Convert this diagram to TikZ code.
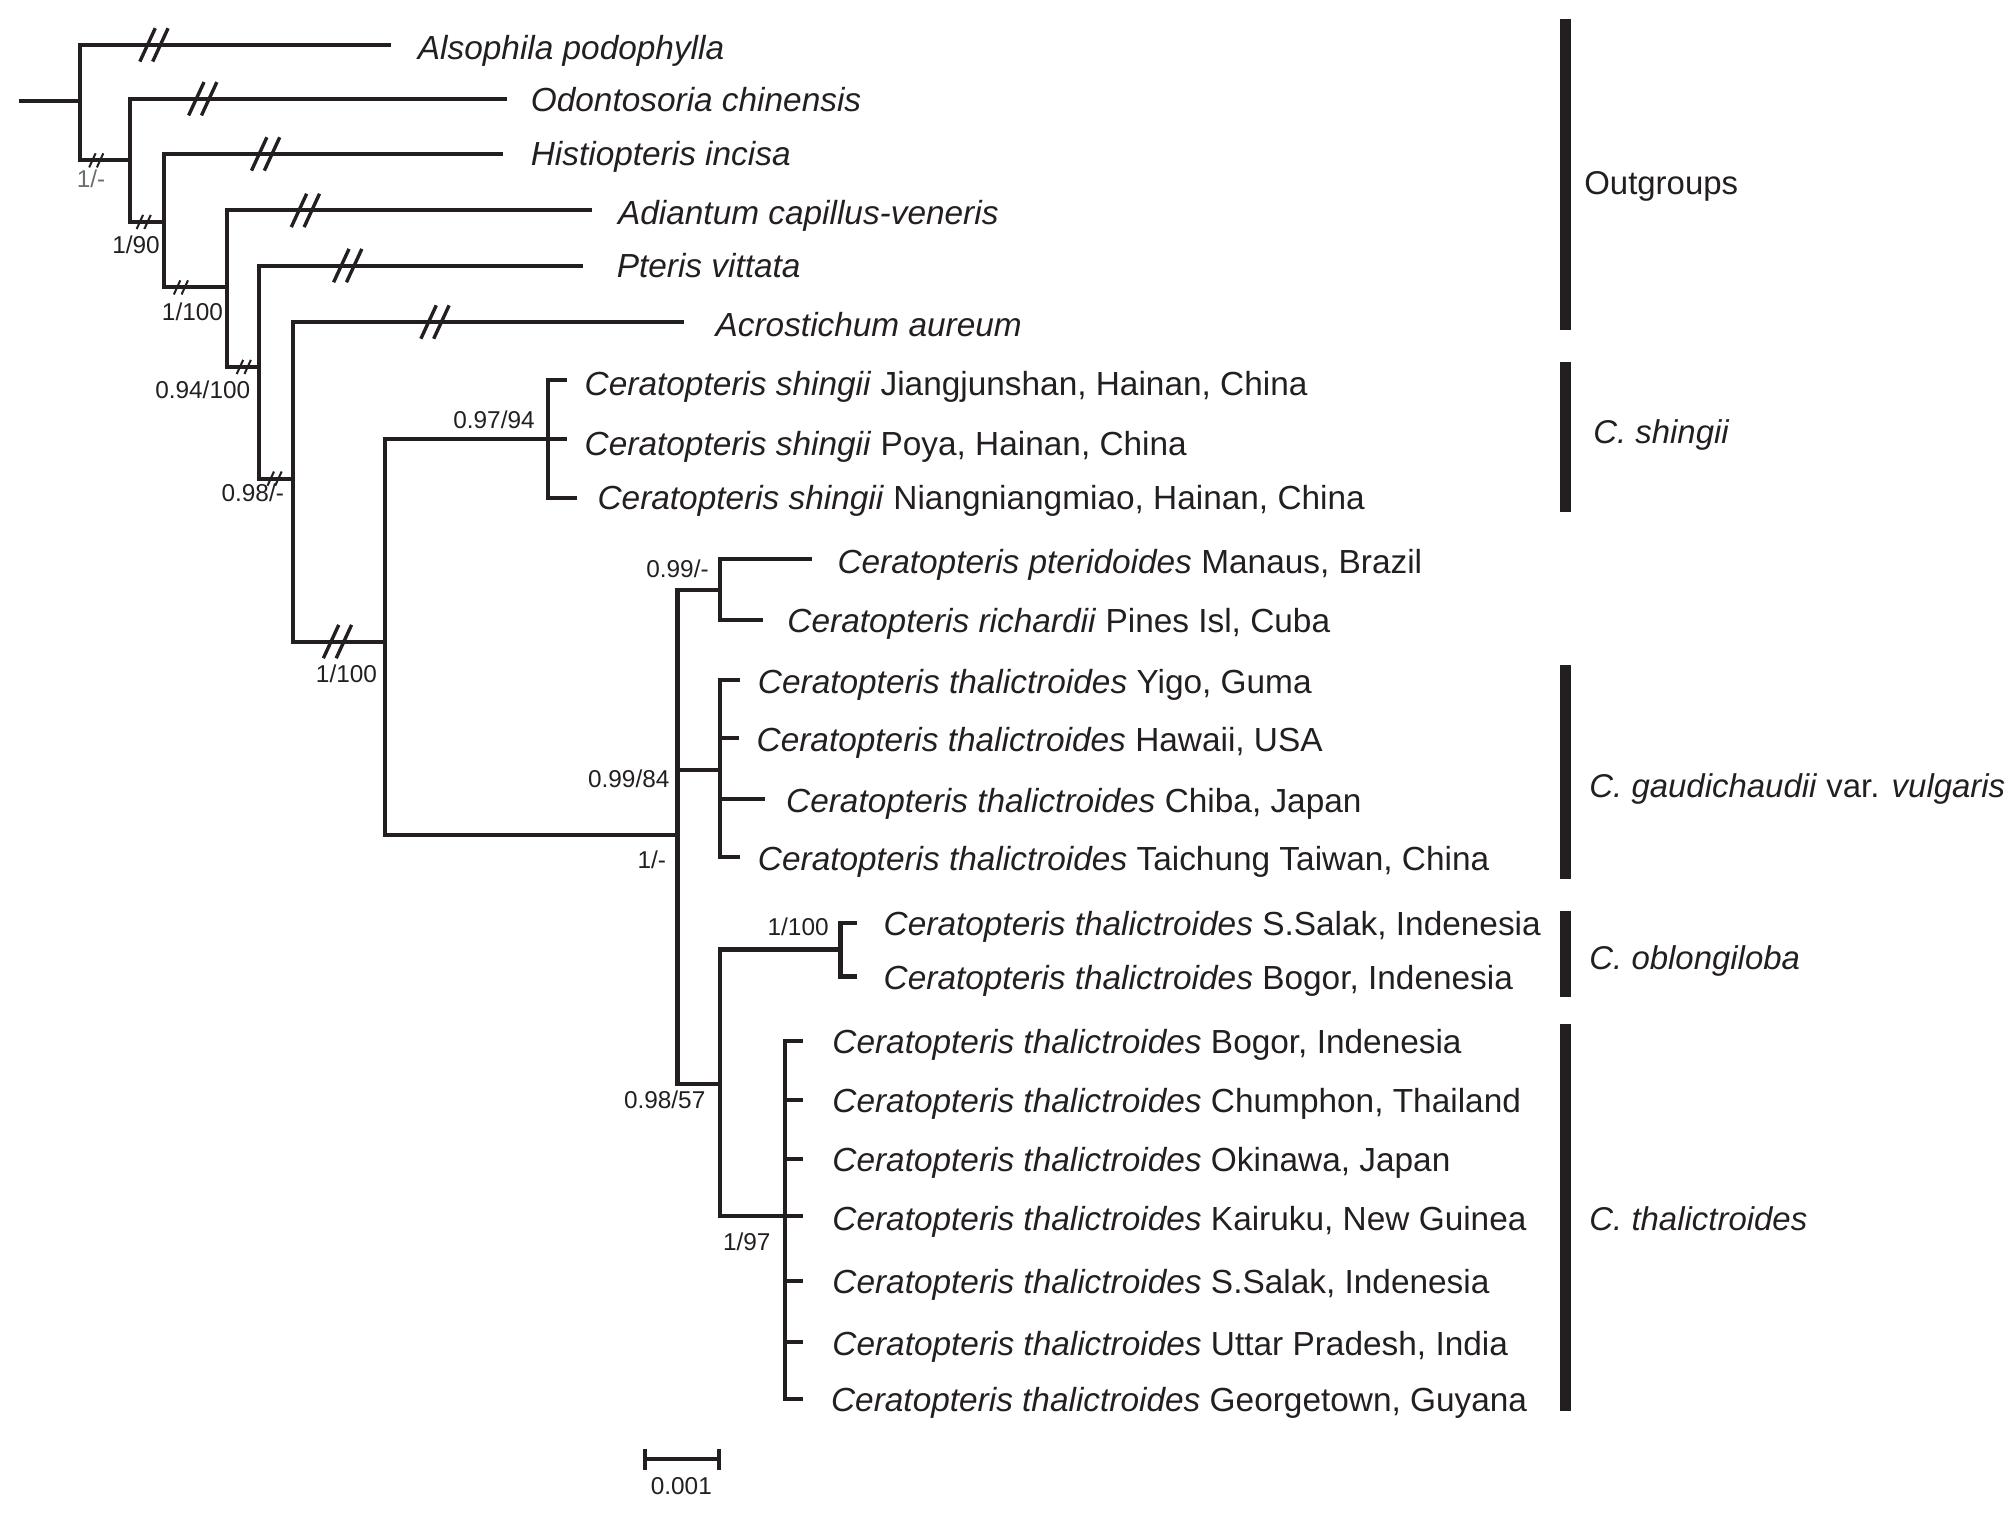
\documentclass[tikz,border=0pt]{standalone}
\usepackage{fontspec}
\setmainfont{Liberation Sans}
\usetikzlibrary{positioning}
\usepackage{xcolor}
\definecolor{cTree}{HTML}{231F20}
\definecolor{cSoft}{HTML}{6D6E71}
\tikzset{
  branch/.style={draw=cTree, line width=0.9pt, line join=miter},
  taxon/.style={anchor=mid west, inner sep=0pt,
    font=\fontsize{7.4}{8}\selectfont, text=cTree},
  support/.style={inner sep=0pt, font=\fontsize{5.4}{6}\selectfont, text=cTree},
  cladebar/.style={fill=cTree},
  cladelabel/.style={anchor=mid west, inner sep=0pt,
    font=\fontsize{7.3}{8}\selectfont, text=cTree},
  brkline/.style={draw=cTree, line width=0.75pt},
  brkthin/.style={draw=cTree, line width=0.45pt},
  brk/.pic={\draw[brkline] (-11,13) -- (1,-13) (-1,13) -- (11,-13);},
  brksmall/.pic={\draw[brkthin] (-5.5,5.5) -- (-0.5,-5.5) (0.5,5.5) -- (5.5,-5.5);},
}

\begin{document}
\begin{tikzpicture}[x=0.01cm, y=-0.01cm]
  \useasboundingbox (0,0) rectangle (1568,1189);

  % Internal nodes
  \coordinate (root) at (15,79);
  \coordinate (n0) at (62,79);
  \coordinate (n1) at (101,125);
  \coordinate (n2) at (128,173);
  \coordinate (n3) at (177,224);
  \coordinate (n4) at (202,286);
  \coordinate (n5) at (228,373);
  \coordinate (n6) at (300,500);
  \coordinate (n7) at (427,342);
  \coordinate (n8) at (528,651);
  \coordinate (n9) at (561,460);
  \coordinate (n10) at (561,600);
  \coordinate (n11) at (561,845);
  \coordinate (n12) at (655,740);
  \coordinate (n13) at (612,948);

  % Tips
  \coordinate (tAls) at (305,35);
  \coordinate (tOdo) at (395,77);
  \coordinate (tHis) at (392,120);
  \coordinate (tAdi) at (461,164);
  \coordinate (tPte) at (454,207);
  \coordinate (tAcr) at (533,251);
  \coordinate (tShJ) at (442,296);
  \coordinate (tShP) at (442,342);
  \coordinate (tShN) at (450,388);
  \coordinate (tPtd) at (633,436);
  \coordinate (tRic) at (595,483);
  \coordinate (tYig) at (577,530);
  \coordinate (tHaw) at (576,575);
  \coordinate (tChi) at (596,623);
  \coordinate (tTai) at (577,668);
  \coordinate (tObS) at (668,719);
  \coordinate (tObB) at (668,761);
  \coordinate (tBog) at (626,811);
  \coordinate (tChu) at (626,857);
  \coordinate (tOki) at (626,903);
  \coordinate (tKai) at (626,948);
  \coordinate (tSal) at (626,998);
  \coordinate (tUtt) at (626,1046);
  \coordinate (tGeo) at (626,1090);

  % Branches
  \draw[branch] (root) -- (n0);
  \draw[branch] (n0) |- (tAls);
  \draw[branch] (n0) |- (n1);
  \draw[branch] (n1) |- (tOdo);
  \draw[branch] (n1) |- (n2);
  \draw[branch] (n2) |- (tHis);
  \draw[branch] (n2) |- (n3);
  \draw[branch] (n3) |- (tAdi);
  \draw[branch] (n3) |- (n4);
  \draw[branch] (n4) |- (tPte);
  \draw[branch] (n4) |- (n5);
  \draw[branch] (n5) |- (tAcr);
  \draw[branch] (n5) |- (n6);
  \draw[branch] (n6) |- (n7);
  \draw[branch] (n6) |- (n8);
  \draw[branch] (n7) |- (tShJ);
  \draw[branch] (n7) |- (tShP);
  \draw[branch] (n7) |- (tShN);
  \draw[branch] (n8) |- (n9);
  \draw[branch] (n8) |- (n10);
  \draw[branch] (n8) |- (n11);
  \draw[branch] (n9) |- (tPtd);
  \draw[branch] (n9) |- (tRic);
  \draw[branch] (n10) |- (tYig);
  \draw[branch] (n10) |- (tHaw);
  \draw[branch] (n10) |- (tChi);
  \draw[branch] (n10) |- (tTai);
  \draw[branch] (n11) |- (n12);
  \draw[branch] (n11) |- (n13);
  \draw[branch] (n12) |- (tObS);
  \draw[branch] (n12) |- (tObB);
  \draw[branch] (n13) |- (tBog);
  \draw[branch] (n13) |- (tChu);
  \draw[branch] (n13) |- (tOki);
  \draw[branch] (n13) |- (tKai);
  \draw[branch] (n13) |- (tSal);
  \draw[branch] (n13) |- (tUtt);
  \draw[branch] (n13) |- (tGeo);

  % Broken branches
  \pic at (120,35) {brk};
  \pic at (158,77) {brk};
  \pic at (207,120) {brk};
  \pic at (238,164) {brk};
  \pic at (271,207) {brk};
  \pic at (339,251) {brk};
  \pic at (263,500) {brk};
  \pic at (75,125) {brksmall};
  \pic at (112,173) {brksmall};
  \pic at (141,224) {brksmall};
  \pic at (190,286) {brksmall};
  \pic at (214,373) {brksmall};

  % Support values
  \node[support, text=cSoft] (s1) at (71,139) {1/-};
  \node[support] (s2) at (106,191) {1/90};
  \node[support] (s3) at (150,243) {1/100};
  \node[support] (s4) at (158,304) {0.94/100};
  \node[support] (s5) at (197,384) {0.98/-};
  \node[support] (s6) at (270,525) {1/100};
  \node[support] (s7) at (385,327) {0.97/94};
  \node[support] (s8) at (508,670) {1/-};
  \node[support] (s9) at (528,443) {0.99/-};
  \node[support] (s10) at (490,607) {0.99/84};
  \node[support] (s11) at (518,857) {0.98/57};
  \node[support] (s12) at (622,722) {1/100};
  \node[support] (s13) at (582,968) {1/97};

  % Taxa
  \node[taxon] (als) at (325,37) {\textit{Alsophila podophylla}};
  \node[taxon] (odo) at (413,78) {\textit{Odontosoria chinensis}};
  \node[taxon] (his) at (413,120) {\textit{Histiopteris incisa}};
  \node[taxon] (adi) at (481,166) {\textit{Adiantum capillus-veneris}};
  \node[taxon] (pte) at (480,207) {\textit{Pteris vittata}};
  \node[taxon] (acr) at (557,253) {\textit{Acrostichum aureum}};
  \node[taxon] (shj) at (455,299) {\textit{Ceratopteris shingii} Jiangjunshan, Hainan, China};
  \node[taxon] (shp) at (455,346) {\textit{Ceratopteris shingii} Poya, Hainan, China};
  \node[taxon] (shn) at (465,388) {\textit{Ceratopteris shingii} Niangniangmiao, Hainan, China};
  \node[taxon] (ptd) at (652,438) {\textit{Ceratopteris pteridoides} Manaus, Brazil};
  \node[taxon] (ric) at (613,484) {\textit{Ceratopteris richardii} Pines Isl, Cuba};
  \node[taxon] (yig) at (590,531) {\textit{Ceratopteris thalictroides} Yigo, Guma};
  \node[taxon] (haw) at (589,576) {\textit{Ceratopteris thalictroides} Hawaii, USA};
  \node[taxon] (chi) at (612,624) {\textit{Ceratopteris thalictroides} Chiba, Japan};
  \node[taxon] (tai) at (590,669) {\textit{Ceratopteris thalictroides} Taichung Taiwan, China};
  \node[taxon] (obs) at (688,720) {\textit{Ceratopteris thalictroides} S.Salak, Indenesia};
  \node[taxon] (obb) at (688,762) {\textit{Ceratopteris thalictroides} Bogor, Indenesia};
  \node[taxon] (bog) at (648,812) {\textit{Ceratopteris thalictroides} Bogor, Indenesia};
  \node[taxon] (chu) at (648,858) {\textit{Ceratopteris thalictroides} Chumphon, Thailand};
  \node[taxon] (oki) at (648,904) {\textit{Ceratopteris thalictroides} Okinawa, Japan};
  \node[taxon] (kai) at (648,950) {\textit{Ceratopteris thalictroides} Kairuku, New Guinea};
  \node[taxon] (sal) at (648,999) {\textit{Ceratopteris thalictroides} S.Salak, Indenesia};
  \node[taxon] (utt) at (648,1047) {\textit{Ceratopteris thalictroides} Uttar Pradesh, India};
  \node[taxon] (geo) at (647,1091) {\textit{Ceratopteris thalictroides} Georgetown, Guyana};

  % Clades
  \fill[cladebar] (1216,15) rectangle (1224,257);
  \fill[cladebar] (1216,282) rectangle (1224,399);
  \fill[cladebar] (1216,518) rectangle (1224,685);
  \fill[cladebar] (1216,710) rectangle (1224,777);
  \fill[cladebar] (1216,798) rectangle (1224,1100);
  \node[cladelabel] (gOut) at (1234,142) {Outgroups};
  \node[cladelabel] (gShi) at (1241,336) {\textit{C. shingii}};
  \node[cladelabel] (gGau) at (1238,612) {\textit{C. gaudichaudii} var. \textit{vulgaris}};
  \node[cladelabel] (gObl) at (1238,746) {\textit{C. oblongiloba}};
  \node[cladelabel] (gTha) at (1238,950) {\textit{C. thalictroides}};

  % Scale bar
  \coordinate (sbL) at (503,1137);
  \coordinate (sbR) at (560,1137);
  \draw[branch] (sbL) -- (sbR);
  \draw[branch] (503,1129) -- (503,1146);
  \draw[branch] (560,1129) -- (560,1146);
  \node[support] (sb) at (531,1158) {0.001};

\end{tikzpicture}
\end{document}
